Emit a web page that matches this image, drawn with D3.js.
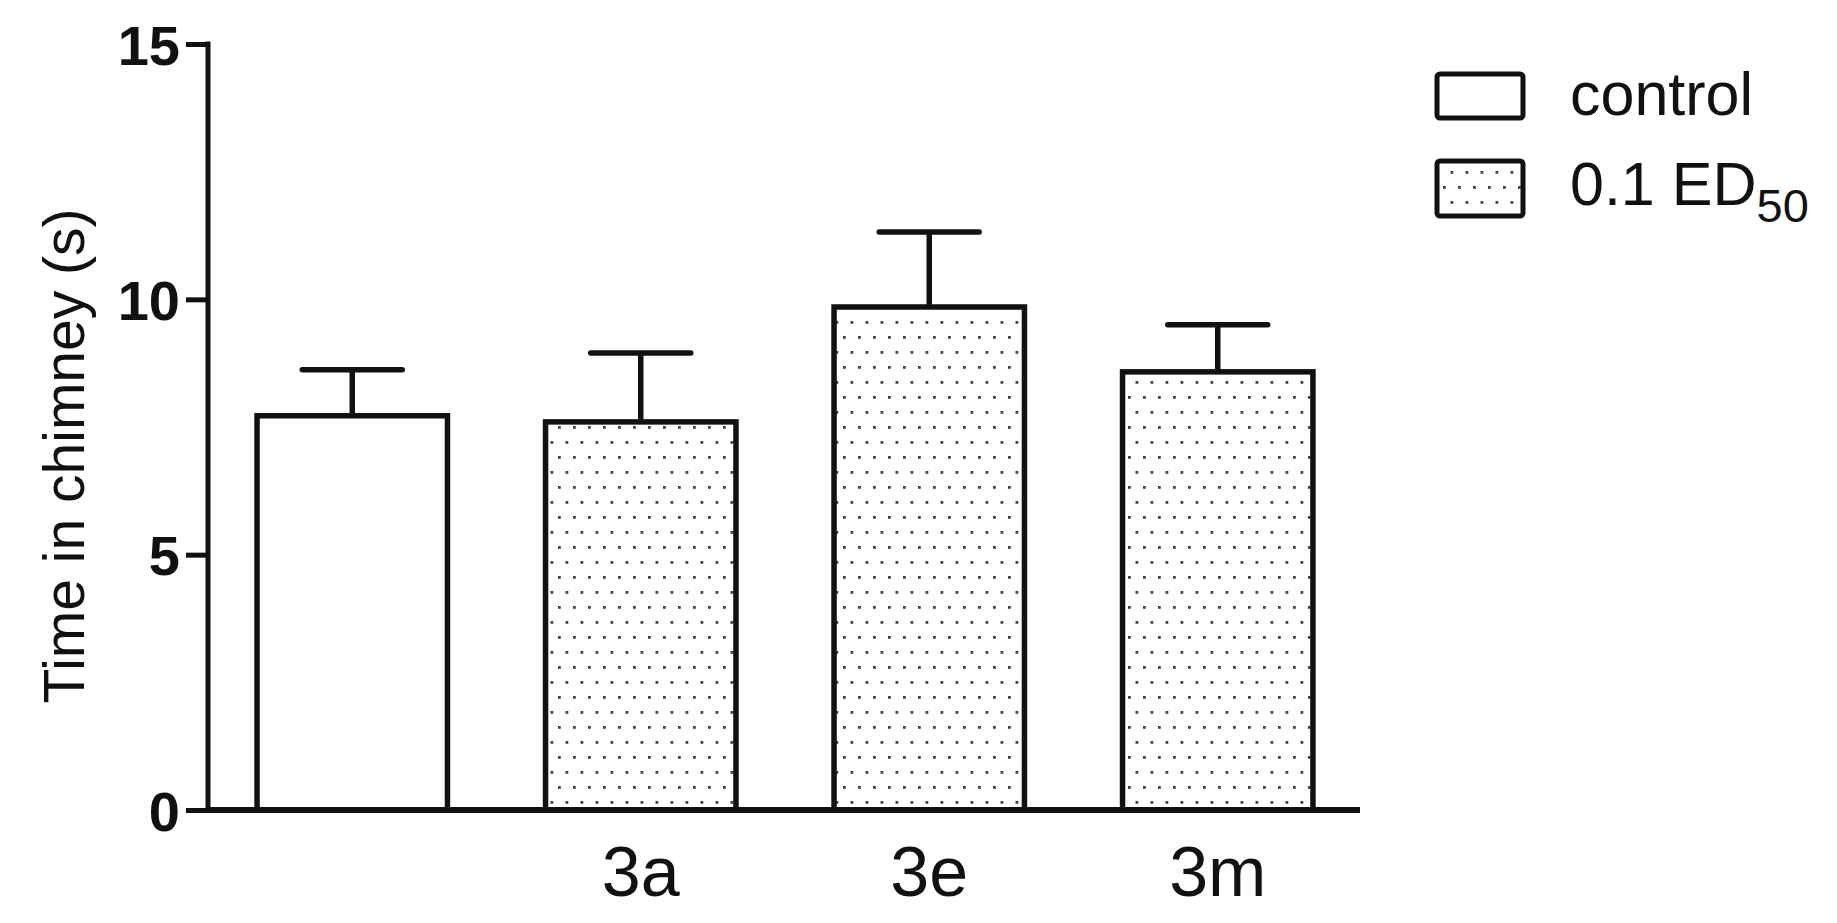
<!DOCTYPE html>
<html>
<head>
<meta charset="utf-8">
<script src="https://cdn.jsdelivr.net/npm/d3@7"></script>
<style>
  body { margin: 0; background: #fff; }
  text { font-family: "Liberation Sans", Arial, sans-serif; fill: #111; }
</style>
</head>
<body>
<div id="chart"></div>
<script>
"use strict";

// data
var groups = ["control", "3a", "3e", "3m"];
var xlabels = ["", "3a", "3e", "3m"];
var means = [7.72, 7.6, 9.85, 8.58];
var errtops = [8.62, 8.95, 11.32, 9.5];
var series = ["control", "dose", "dose", "dose"];
var yticks = [0, 5, 10, 15];

var w = 1837, h = 923;

var svg = d3.select("#chart")
    .append("svg")
    .attr("width", w)
    .attr("height", h);

// dotted fill
var defs = svg.append("defs");
var pat = defs.append("pattern")
    .attr("id", "dots")
    .attr("patternUnits", "userSpaceOnUse")
    .attr("width", 15)
    .attr("height", 30);
pat.append("rect").attr("width", 15).attr("height", 30).attr("fill", "#fff");
pat.append("rect").attr("x", 3).attr("y", 6).attr("width", 2.8).attr("height", 2.8).attr("fill", "#444");
pat.append("rect").attr("x", 10.5).attr("y", 21).attr("width", 2.8).attr("height", 2.8).attr("fill", "#444");

var y = d3.scaleLinear()
    .domain([0, 15])
    .range([810, 44]);

var x = d3.scaleBand()
    .domain(groups)
    .range([208, 1362])
    .paddingInner(0.34)
    .paddingOuter(0.17);

var g = svg.append("g");

// bars
g.selectAll("rect.bar")
    .data(groups)
    .enter()
    .append("rect")
    .attr("class", "bar")
    .attr("x", function(d){ return x(d); })
    .attr("y", function(d, i){ return y(means[i]); })
    .attr("width", x.bandwidth())
    .attr("height", function(d, i){ return y(0) - y(means[i]); })
    .attr("fill", function(d, i){ return series[i] == "control" ? "#fff" : "url(#dots)"; })
    .attr("stroke", "#111")
    .attr("stroke-width", 5.5);

// error bars (upper only)
var capw = 100;
g.selectAll("line.err")
    .data(groups)
    .enter()
    .append("line")
    .attr("class", "err")
    .attr("x1", function(d){ return x(d) + x.bandwidth()/2; })
    .attr("x2", function(d){ return x(d) + x.bandwidth()/2; })
    .attr("y1", function(d, i){ return y(means[i]); })
    .attr("y2", function(d, i){ return y(errtops[i]); })
    .attr("stroke", "#111")
    .attr("stroke-width", 5.5);

g.selectAll("line.cap")
    .data(groups)
    .enter()
    .append("line")
    .attr("class", "cap")
    .attr("x1", function(d){ return x(d) + x.bandwidth()/2 - capw/2; })
    .attr("x2", function(d){ return x(d) + x.bandwidth()/2 + capw/2; })
    .attr("y1", function(d, i){ return y(errtops[i]); })
    .attr("y2", function(d, i){ return y(errtops[i]); })
    .attr("stroke", "#111")
    .attr("stroke-width", 5.5)
    .attr("stroke-linecap", "round");

// y axis
var yAxis = svg.append("g")
    .attr("transform", "translate(208,0)")
    .call(d3.axisLeft(y).tickValues(yticks).tickSize(22).tickPadding(6));
yAxis.select(".domain").remove();
yAxis.append("line")
    .attr("x1", 0).attr("x2", 0)
    .attr("y1", y(15) - 2.5).attr("y2", y(0))
    .attr("stroke", "#111").attr("stroke-width", 5);
yAxis.selectAll(".tick line").attr("stroke", "#111").attr("stroke-width", 5);
yAxis.selectAll(".tick text")
    .attr("fill", "#111")
    .style("font-family", "'Liberation Sans', Arial, sans-serif")
    .style("font-size", "56px")
    .style("font-weight", "bold")
    .attr("dy", "0.36em");

// x axis
var xAxis = svg.append("g")
    .attr("transform", "translate(0," + y(0) + ")")
    .call(d3.axisBottom(x).tickSize(0).tickPadding(0).tickFormat(function(d, i){ return xlabels[i]; }));
xAxis.select(".domain").remove();
xAxis.append("line")
    .attr("x1", 206).attr("x2", 1360)
    .attr("y1", 0).attr("y2", 0)
    .attr("stroke", "#111").attr("stroke-width", 6);
xAxis.selectAll(".tick text")
    .attr("fill", "#111")
    .attr("y", 86)
    .attr("dy", 0)
    .style("font-family", "'Liberation Sans', Arial, sans-serif")
    .style("font-size", "70px");

// y label
svg.append("text")
    .attr("transform", "translate(84,456) rotate(-90)")
    .attr("text-anchor", "middle")
    .style("font-size", "57px")
    .text("Time in chimney (s)");

// legend
svg.append("rect")
    .attr("x", 1437).attr("y", 74)
    .attr("width", 86).attr("height", 44)
    .attr("rx", 3)
    .attr("fill", "#fff")
    .attr("stroke", "#111").attr("stroke-width", 5);
svg.append("text")
    .attr("x", 1570).attr("y", 115)
    .style("font-size", "61px")
    .text("control");

svg.append("rect")
    .attr("x", 1437).attr("y", 161)
    .attr("width", 86).attr("height", 55)
    .attr("rx", 3)
    .attr("fill", "url(#dots)")
    .attr("stroke", "#111").attr("stroke-width", 5);
var leg2 = svg.append("text")
    .attr("x", 1570).attr("y", 205)
    .style("font-size", "61px")
    .text("0.1 ED");
leg2.append("tspan")
    .attr("dy", 17)
    .style("font-size", "47px")
    .text("50");
</script>
</body>
</html>
